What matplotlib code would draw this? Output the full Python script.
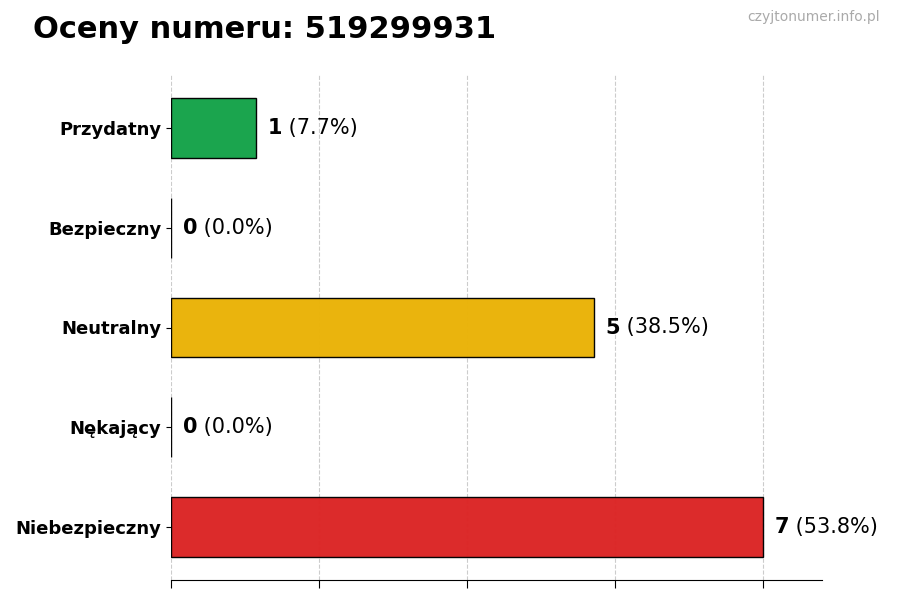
import matplotlib
matplotlib.use("Agg")
import matplotlib.pyplot as plt
import numpy as np

categories = ["Przydatny", "Bezpieczny", "Neutralny", "Nękający", "Niebezpieczny"]
counts = [1, 0, 5, 0, 7]
colors = ["#16a34a", "#9ca3af", "#eab308", "#f97316", "#dc2626"]
title = "Oceny numeru: 519299931"
watermark = "czyjtonumer.info.pl"

total = sum(counts)
fig = plt.figure(figsize=(9, 6), dpi=100)
ax = fig.add_axes([171/900, 1-580/600, (822-171)/900, (580-75)/600])

y = np.arange(len(categories))
ax.barh(y, counts, height=0.6, color=colors, edgecolor="black", linewidth=1, alpha=0.98, zorder=2)
ax.invert_yaxis()
ax.set_yticks(y)
ax.set_yticklabels(categories, fontsize=13, fontweight="bold")
mx = max(counts)
ax.set_xlim(0, mx * 1.1)
ax.set_xticks(np.linspace(0, mx, 5))
ax.set_xticklabels([])
ax.tick_params(axis="x", length=6)
ax.grid(axis="x", linestyle="--", color="#cccccc", linewidth=0.8, zorder=0)
ax.set_axisbelow(True)
for s in ["top", "right", "left"]:
    ax.spines[s].set_visible(False)

for i, c in enumerate(counts):
    t = ax.text(c + 0.14, i, f"{c}", fontsize=15, fontweight="bold", va="center", ha="left")
    ax.annotate(f" ({c / total * 100:.1f}%)", xy=(1, 0.5), xycoords=t, fontsize=15,
                va="center", ha="left")

fig.text(33/900, 1-30/600, title, fontsize=22, fontweight="bold", va="center", ha="left")
fig.text(880/900, 1-17/600, watermark, fontsize=10, color="#aaaaaa", va="center", ha="right")

fig.savefig("out.png", dpi=100)
